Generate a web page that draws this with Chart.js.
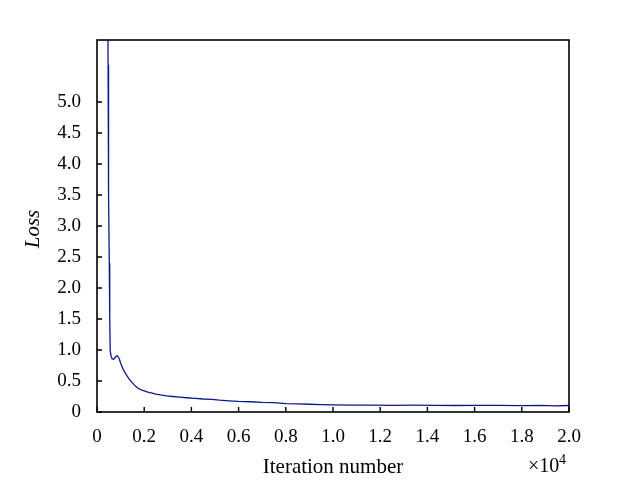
<!DOCTYPE html>
<html><head><meta charset="utf-8">
<script src="https://cdn.jsdelivr.net/npm/chart.js@4.4.1/dist/chart.umd.min.js"></script>
<style>html,body{margin:0;padding:0;background:#fff}#wrap{width:630px;height:482px}</style>
</head><body><div id="wrap"><canvas id="c" width="630" height="482"></canvas></div>
<script>
// iteration (x 10^4)
const iterations = [0.046,0.047,0.048,0.049,0.050,0.052,0.054,0.056,0.060,0.064,0.070,0.075,0.080,0.085,0.090,0.095,0.100,0.105,0.112,0.118,0.126,0.135,0.145,0.155,0.165,0.175,0.188,0.200,0.215,0.230,0.250,0.270,0.295,0.320,0.350,0.380,0.415,0.450,0.485,0.520,0.560,0.600,0.650,0.700,0.750,0.800,0.850,0.900,0.950,1.000,1.080,1.160,1.250,1.340,1.430,1.520,1.610,1.700,1.790,1.880,1.940,2.000];
const lossValues = [6.30,5.60,5.10,4.30,3.50,2.40,1.50,0.98,0.90,0.86,0.85,0.87,0.89,0.91,0.89,0.85,0.79,0.74,0.68,0.64,0.59,0.54,0.49,0.45,0.41,0.38,0.355,0.34,0.32,0.31,0.29,0.275,0.26,0.25,0.24,0.23,0.22,0.21,0.205,0.19,0.18,0.17,0.165,0.155,0.15,0.135,0.13,0.125,0.12,0.115,0.11,0.11,0.108,0.11,0.107,0.105,0.108,0.106,0.104,0.107,0.10,0.105];
const yTickValues = [0,0.5,1.0,1.5,2.0,2.5,3.0,3.5,4.0,4.5,5.0];
const xTickValues = [0,0.2,0.4,0.6,0.8,1.0,1.2,1.4,1.6,1.8,2.0];

const pts = iterations.map((x,i)=>({x:x,y:lossValues[i]}));
const FONT = "'Liberation Serif','Times New Roman',serif";

const frame = {
  id:'frame',
  afterDraw(chart){
    const {ctx, chartArea:a, scales} = chart;
    ctx.save();
    ctx.strokeStyle='#000'; ctx.lineWidth=1.6;
    ctx.strokeRect(a.left, a.top, a.right-a.left, a.bottom-a.top);
    ctx.lineWidth=1.4;
    ctx.beginPath();
    scales.x.ticks.forEach((t,i)=>{const p=scales.x.getPixelForTick(i); ctx.moveTo(p,a.bottom); ctx.lineTo(p,a.bottom-5);});
    scales.y.ticks.forEach((t,i)=>{const p=scales.y.getPixelForTick(i); ctx.moveTo(a.left,p); ctx.lineTo(a.left+5,p);});
    ctx.stroke();
    ctx.fillStyle='#000';
    ctx.font = "21px "+FONT;
    ctx.textAlign='center'; ctx.textBaseline='middle';
    ctx.fillText('Iteration number', (a.left+a.right)/2, 467);
    ctx.textAlign='left';
    ctx.font = "20px "+FONT;
    ctx.fillText('\u00d710', 528, 467);
    ctx.font = "14px "+FONT;
    ctx.fillText('4', 559, 460);
    ctx.translate(33, 229); ctx.rotate(-Math.PI/2);
    ctx.textAlign='center';
    ctx.font = "italic 21px "+FONT;
    ctx.fillText('Loss', 0, 0);
    ctx.restore();
  }
};

new Chart(document.getElementById('c'), {
  type:'line',
  data:{datasets:[
    {data:pts, borderColor:'#0b1a8a', borderWidth:1.3, pointRadius:0, tension:0, fill:false}
  ]},
  options:{
    responsive:false, animation:false, devicePixelRatio:1,
    layout:{padding:{left:0,right:61,top:40,bottom:0}},
    plugins:{legend:{display:false}, tooltip:{enabled:false}},
    scales:{
      x:{type:'linear', min:0, max:2.0,
        afterBuildTicks(s){ s.ticks = xTickValues.map(v=>({value:v})); },
        afterFit(s){ s.height = 70; },
        grid:{display:false, drawTicks:false}, border:{display:false},
        ticks:{padding:14, color:'#000', font:{family:FONT, size:19}, maxRotation:0, autoSkip:false,
          callback:(v)=> v===0 ? '0' : Number(v).toFixed(1)}
      },
      y:{type:'linear', min:0, max:6.0,
        afterBuildTicks(s){ s.ticks = yTickValues.map(v=>({value:v})); },
        afterFit(s){ s.width = 97; },
        grid:{display:false, drawTicks:false}, border:{display:false},
        ticks:{padding:16, color:'#000', font:{family:FONT, size:19}, autoSkip:false,
          callback:(v)=> v===0 ? '0' : Number(v).toFixed(1)}
      }
    }
  },
  plugins:[frame]
});
</script></body></html>
